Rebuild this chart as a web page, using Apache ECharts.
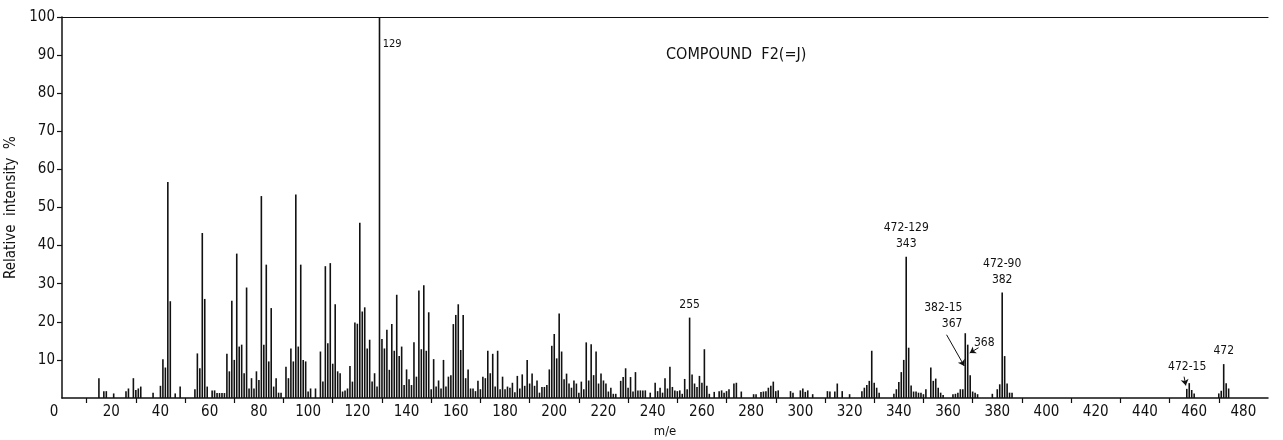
<!DOCTYPE html>
<html>
<head>
<meta charset="utf-8">
<title>COMPOUND F2 (=J)</title>
<script src="https://cdn.jsdelivr.net/npm/echarts/dist/echarts.min.js"></script>
<style>
html, body { margin: 0; padding: 0; background: #fff; }
#chart { width: 1283px; height: 440px; }
</style>
</head>
<body>
<div id="chart"></div>
<script>
// m/e and relative intensity (%)
var massA = [15,17,18,21,26,27,29,30,31,32,37,40,41,42,43,44,46,48,54,55,
             56,57,58,59,61,62,63,64,65,66,67,68,69,70,71,72,73,74,75,76,
             77,78,79,80,81,82,83,84,85,86,87,88,89,91,92,93,94,95,96,97,98,99];
var intA  = [5.2,1.8,1.8,1.2,1.8,2.5,5.2,2.1,2.5,3.0,1.4,3.2,10.2,8.0,56.7,25.4,1.2,3.0,2.3,11.7,
             7.8,43.3,26.0,3.0,2.0,2.0,1.3,1.3,1.3,1.3,11.6,7.0,25.5,10.0,37.9,13.5,14.0,6.5,29.0,2.5,
             5.2,2.5,7.0,4.7,53.0,14.0,35.0,9.6,23.6,3.0,5.2,1.4,1.4,8.2,5.2,13.0,9.6,53.4,13.5,35.0,10.0,9.6];

var massB = [100,101,103,105,106,107,108,109,110,111,112,113,114,115,116,117,118,119,120,121,
             122,123,124,125,126,127,128,129,130,131,132,133,134,135,136,137,138,139,140,141,
             142,143,144,145,146,147,148,149,150,151,152,153,154,155,156,157,158,159,160,161,
             162,163,164,165,166,167,168,169,170,171,172,173,174,175,176,177,178,179,180,181,
             182,183,184,185,186,187,188,189,190,191,192,193,194,195,196,197,198,199];
var intB  = [1.7,2.5,2.5,12.2,4.3,34.6,14.4,35.4,9.0,24.6,7.0,6.5,1.7,2.0,2.5,8.4,4.3,19.8,19.5,46.0,
             22.7,23.8,13.0,15.3,4.3,6.5,3.0,100,15.5,13.0,17.9,7.4,19.4,12.4,27.1,11.0,13.5,3.4,7.5,4.9,
             3.4,14.6,5.6,28.2,12.8,29.6,12.4,22.5,2.3,10.2,3.0,4.6,2.5,10.0,3.0,5.6,6.0,19.4,21.8,24.6,
             12.6,21.8,5.2,7.5,2.5,2.5,1.8,4.5,2.3,5.6,5.2,12.4,6.5,11.6,3.0,12.4,2.3,5.6,2.3,3.0,
             2.7,4.0,1.5,5.8,2.5,6.2,3.2,10.0,3.8,6.4,3.2,4.6,1.4,2.9,2.9,3.4,7.5,13.7];

var massC = [200,201,202,203,204,205,206,207,208,209,210,211,212,213,214,215,216,217,218,219,
             220,221,222,223,224,225,227,228,229,230,231,232,233,234,235,236,237,239,241,242,
             243,244,245,246,247,248,249,250,251,252,253,254,255,256,257,258,259,260,261,262,
             263,265,267,268,269,270,271,273,274,276,281,282,284,285,286,287,288,289,290,291,296,297];
var intC  = [16.8,10.4,22.2,12.2,4.9,6.4,3.8,2.7,4.6,3.8,1.4,4.3,2.3,14.6,4.6,14.1,6.0,12.2,3.8,6.4,
             4.6,3.8,1.7,2.7,1.1,1.1,4.5,5.5,7.8,2.7,5.5,1.7,6.8,2.0,2.0,2.0,2.0,1.4,4.0,1.8,
             2.7,1.4,5.2,2.5,8.2,2.9,2.0,1.8,2.0,1.1,5.0,2.3,21.1,6.2,3.8,2.9,5.8,4.0,12.8,3.2,
             1.1,1.6,1.8,2.0,1.4,1.8,2.3,3.8,4.0,1.7,1.0,1.0,1.6,1.7,1.8,2.7,3.2,4.3,1.8,2.0,1.8,1.4];

var massD = [300,301,302,303,305,311,312,314,315,317,320,325,326,327,328,329,330,331,332,338,
             339,340,341,342,343,344,345,346,347,348,349,350,351,353,354,355,356,357,358,362,
             363,364,365,366,367,368,369,370,371,372,378,380,381,382,383,384,385,386,
             457,458,459,460,470,471,472,473,474];
var intD  = [2.0,2.5,1.6,2.0,1.0,1.8,1.7,1.7,3.8,1.8,1.0,1.8,2.7,3.4,4.5,12.4,4.0,2.7,1.4,1.1,
             2.3,4.2,6.8,10.0,37.1,13.2,3.3,1.7,1.7,1.4,1.4,1.0,2.3,8.0,4.5,5.1,2.7,1.4,0.8,1.0,
             1.1,1.4,2.3,2.3,17.0,14.0,6.0,1.7,1.4,1.0,1.1,2.3,3.6,27.7,11.0,3.8,1.4,1.4,
             2.4,3.9,2.1,1.2,1.2,1.9,8.9,3.9,2.5];

var peakText = {
    129: '129',
    255: '255',
    343: '472-129\n343',
    367: '382-15\n367',
    368: '368',
    382: '472-90\n382',
    458: '472-15',
    472: '472'
};

var xTicks = [0, 490, 20];
var yTicks = [0, 100, 10];

var FONT = '"DejaVu Sans Condensed", "DejaVu Sans", sans-serif';
var INK = '#111';

function labelFor(m) {
    var t = peakText[m];
    if (!t) return null;
    var lab = {show: true, formatter: t, color: INK, fontFamily: FONT, fontSize: 12, lineHeight: 16};
    if (m == 129) {
        lab.position = [4, 19];
        lab.fontSize = 11;
    } else if (m == 367) {
        lab.position = [-2, -1];
        lab.align = 'right';
        lab.verticalAlign = 'bottom';
    } else if (m == 368) {
        lab.position = [7, -10];
        lab.align = 'left';
        lab.verticalAlign = 'top';
    } else if (m == 458) {
        lab.position = 'top';
        lab.distance = 8;
        lab.offset = [-2, 0];
    } else {
        lab.position = 'top';
        lab.distance = 5;
    }
    return lab;
}

function buildPeaks() {
    var ms = massA.concat(massB, massC, massD);
    var vs = intA.concat(intB, intC, intD);
    var out = [];
    for (var i = 0; i < ms.length; i++) {
        var item = {value: [ms[i], vs[i]]};
        var lab = labelFor(ms[i]);
        if (lab) item.label = lab;
        out.push(item);
    }
    return out;
}

var option = {
    animation: false,
    backgroundColor: '#fff',
    textStyle: {fontFamily: FONT, color: INK},
    title: {
        text: 'COMPOUND  F2(=J)',
        left: 661,
        top: 42,
        textStyle: {fontFamily: FONT, fontSize: 16, fontWeight: 'normal', color: INK}
    },
    grid: {left: 62, right: 15, top: 17, bottom: 42, outerBoundsMode: 'none'},
    xAxis: [{
        type: 'value',
        min: xTicks[0], max: xTicks[1], interval: xTicks[2],
        name: 'm/e',
        nameLocation: 'middle',
        nameGap: 27,
        nameTextStyle: {fontFamily: FONT, fontSize: 13, color: INK},
        axisLine: {lineStyle: {color: INK, width: 1.5}},
        axisTick: {show: false},
        minorTick: {show: true, splitNumber: 2, length: 5, lineStyle: {color: INK, width: 1.2}},
        axisLabel: {
            showMaxLabel: false, margin: 7, fontFamily: FONT, fontSize: 15, color: INK,
            formatter: function (v) { return v === 0 ? '{z|0}' : String(v); },
            rich: {z: {fontFamily: FONT, fontSize: 15, color: INK, padding: [0, 16, 0, 0]}}
        },
        splitLine: {show: false},
        minorSplitLine: {show: false}
    }, {
        type: 'value',
        position: 'top',
        min: xTicks[0], max: xTicks[1],
        axisLine: {lineStyle: {color: INK, width: 1.2}},
        axisTick: {show: false},
        axisLabel: {show: false},
        splitLine: {show: false}
    }],
    yAxis: {
        type: 'value',
        min: yTicks[0], max: yTicks[1], interval: yTicks[2],
        name: 'Relative  intensity  %',
        nameLocation: 'middle',
        nameGap: 37,
        nameTextStyle: {fontFamily: FONT, fontSize: 15, color: INK},
        axisLine: {show: true, lineStyle: {color: INK, width: 1.5}},
        axisTick: {show: true, length: 5, lineStyle: {color: INK, width: 1.2}},
        axisLabel: {showMinLabel: false, margin: 7, fontFamily: FONT, fontSize: 15, color: INK},
        splitLine: {show: false}
    },
    series: [{
        type: 'bar',
        xAxisIndex: 0,
        barWidth: 1.6,
        itemStyle: {color: INK},
        data: buildPeaks(),
        markLine: {
            silent: true,
            symbol: ['none', 'arrow'],
            symbolSize: 6,
            label: {show: false},
            lineStyle: {color: INK, width: 1, type: 'solid'},
            data: [
                [{coord: [359.4, 16.6], lineStyle: {curveness: -0.3}}, {coord: [366.6, 8.4]}],
                [{coord: [372.4, 13.2]}, {coord: [368.8, 11.8]}],
                [{coord: [455.9, 5.6]}, {coord: [456.6, 3.3]}]
            ]
        }
    }]
};

var chart = echarts.init(document.getElementById('chart'), null, {renderer: 'canvas'});
chart.setOption(option);
</script>
</body>
</html>
